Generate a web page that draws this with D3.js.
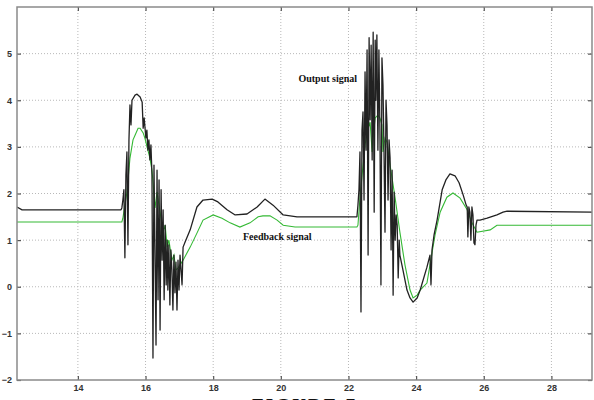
<!DOCTYPE html>
<html>
<head>
<meta charset="utf-8">
<script src="https://cdn.jsdelivr.net/npm/d3@7"></script>
<style>
  html, body { margin: 0; padding: 0; background: #fff; }
  svg { display: block; }
</style>
</head>
<body>
<div id="chart"></div>
<script>
// time / value pairs
const outputSignal = [
  [12.20, 1.71], [12.35, 1.65], [15.275, 1.65], [15.30, 1.69], [15.33, 1.86], [15.36, 2.08],
  [15.39, 0.62], [15.42, 2.40], [15.45, 2.89], [15.48, 0.90], [15.51, 3.15], [15.54, 3.90],
  [15.57, 3.47], [15.60, 4.00], [15.69, 4.11], [15.75, 4.13], [15.84, 4.07], [15.90, 3.96],
  [15.93, 3.40], [15.96, 3.62], [16.01, 3.19], [16.04, 3.36], [16.07, 2.93], [16.10, 3.15],
  [16.13, 2.72], [16.16, 3.04], [16.19, 2.40], [16.22, -1.53], [16.25, 2.61], [16.28, 0.79],
  [16.31, -1.25], [16.34, 2.50], [16.37, -0.28], [16.40, 2.29], [16.43, -0.93], [16.46, 2.08],
  [16.49, 0.57], [16.52, 1.65], [16.55, -0.28], [16.58, 1.32], [16.61, 0.04], [16.64, 1.00],
  [16.66, -0.07], [16.69, 0.90], [16.72, -0.39], [16.75, 0.79], [16.78, 0.36], [16.81, -0.50],
  [16.84, 0.68], [16.87, -0.13], [16.90, 0.53], [16.93, -0.50], [16.96, 0.57], [16.99, -0.07],
  [17.02, 0.68], [17.08, 0.04], [17.11, 0.85], [17.17, 0.96], [17.32, 1.22], [17.52, 1.71],
  [17.70, 1.86], [17.97, 1.88], [18.14, 1.82], [18.41, 1.65], [18.65, 1.54], [19.00, 1.56],
  [19.30, 1.71], [19.53, 1.88], [19.77, 1.75], [20.07, 1.54], [20.48, 1.50], [22.25, 1.50],
  [22.28, 1.75], [22.31, 2.08], [22.34, 2.89], [22.37, -0.54], [22.40, 3.36], [22.43, 3.75],
  [22.46, 1.86], [22.49, 4.61], [22.52, 2.93], [22.55, 5.08], [22.58, 0.68], [22.61, 5.34],
  [22.64, 3.58], [22.67, 5.18], [22.70, 2.72], [22.73, 5.46], [22.76, 1.60], [22.79, 5.29],
  [22.81, 4.00], [22.84, 5.40], [22.87, 2.93], [22.90, 5.08], [22.93, 3.36], [22.96, 0.04],
  [22.99, 4.91], [23.02, 4.33], [23.05, 2.93], [23.08, 1.17], [23.11, 4.00], [23.14, 3.47],
  [23.17, 1.86], [23.20, 3.15], [23.23, 2.76], [23.26, 0.79], [23.29, 2.50], [23.32, -0.18],
  [23.35, 2.03], [23.38, 1.00], [23.41, 1.54], [23.44, 1.32], [23.47, 0.19], [23.50, 1.00],
  [23.52, 0.68], [23.61, 0.36], [23.73, -0.07], [23.82, -0.24], [23.91, -0.33], [24.03, -0.24],
  [24.12, -0.07], [24.32, 0.42], [24.41, 0.68], [24.44, 0.04], [24.47, 0.79], [24.53, 1.11],
  [24.62, 1.43], [24.77, 2.08], [24.88, 2.29], [25.00, 2.42], [25.15, 2.38], [25.27, 2.23],
  [25.39, 1.97], [25.48, 1.75], [25.51, 1.71], [25.53, 1.07], [25.56, 1.71], [25.59, 1.60],
  [25.62, 1.00], [25.65, 1.71], [25.68, 1.54], [25.71, 0.94], [25.74, 0.90], [25.77, 1.32],
  [25.80, 1.43], [25.89, 1.43], [26.10, 1.47], [26.39, 1.54], [26.57, 1.60], [26.69, 1.62],
  [29.20, 1.60]
];

const feedbackSignal = [
  [12.20, 1.39], [15.30, 1.39], [15.33, 1.47], [15.39, 1.75], [15.45, 2.03], [15.54, 2.76],
  [15.63, 3.15], [15.69, 3.25], [15.78, 3.40], [15.84, 3.40], [15.93, 3.30], [15.98, 3.19],
  [16.07, 2.93], [16.13, 2.76], [16.19, 2.50], [16.22, 2.25], [16.28, 1.69], [16.34, 2.03],
  [16.43, 1.60], [16.52, 1.17], [16.58, 1.32], [16.64, 0.85], [16.69, 1.00], [16.78, 0.57],
  [16.84, 0.68], [16.90, 0.36], [16.96, 0.40], [17.02, 0.47], [17.11, 0.57], [17.32, 0.85],
  [17.52, 1.15], [17.70, 1.43], [18.00, 1.54], [18.26, 1.47], [18.50, 1.37], [18.79, 1.28],
  [19.09, 1.37], [19.33, 1.50], [19.47, 1.52], [19.68, 1.52], [19.89, 1.43], [20.07, 1.32],
  [20.42, 1.28], [22.25, 1.28], [22.28, 1.32], [22.34, 1.90], [22.43, 2.61], [22.49, 3.04],
  [22.55, 3.32], [22.64, 3.53], [22.70, 2.89], [22.73, 3.25], [22.79, 3.62], [22.87, 3.68],
  [22.93, 3.62], [22.99, 3.47], [23.02, 2.89], [23.08, 3.19], [23.14, 3.10], [23.23, 2.61],
  [23.38, 1.90], [23.52, 1.17], [23.67, 0.47], [23.82, -0.07], [23.91, -0.24], [24.03, -0.18],
  [24.12, -0.07], [24.32, 0.08], [24.41, 0.47], [24.56, 1.11], [24.71, 1.60], [24.91, 1.92],
  [25.09, 2.01], [25.30, 1.90], [25.51, 1.65], [25.65, 1.37], [25.80, 1.17], [26.19, 1.22],
  [26.39, 1.32], [29.20, 1.32]
];

const xTicks = [14, 16, 18, 20, 22, 24, 26, 28];
const yTicks = [-2, -1, 0, 1, 2, 3, 4, 5];

const W = 594, H = 400;
const margin = { top: 7, right: 2, bottom: 20, left: 17 };
const iw = W - margin.left - margin.right;
const ih = H - margin.top - margin.bottom;

const svg = d3.select('#chart').append('svg')
  .attr('width', W).attr('height', H);

const g = svg.append('g').attr('transform', `translate(${margin.left},${margin.top})`);

const x = d3.scaleLinear().domain([12.2, 29.2]).range([0, iw]);
const y = d3.scaleLinear().domain([-2, 6]).range([ih, 0]);

// dotted grid
const grid = g.append('g').attr('class', 'grid');
grid.selectAll('line.gx').data(xTicks).join('line')
  .attr('class', 'gx')
  .attr('x1', d => x(d)).attr('x2', d => x(d)).attr('y1', 0).attr('y2', ih);
grid.selectAll('line.gy').data(yTicks.filter(d => d > -2)).join('line')
  .attr('class', 'gy')
  .attr('x1', 0).attr('x2', iw).attr('y1', d => y(d)).attr('y2', d => y(d));
grid.selectAll('line')
  .attr('stroke', '#b8b8b8').attr('stroke-width', 1).attr('stroke-dasharray', '1,2');

svg.append('clipPath').attr('id', 'clip')
  .append('rect').attr('width', iw).attr('height', ih);

const line = d3.line().x(d => x(d[0])).y(d => y(d[1]));

const plot = g.append('g').attr('clip-path', 'url(#clip)');
plot.append('path').datum(feedbackSignal)
  .attr('fill', 'none').attr('stroke', '#35b935').attr('stroke-width', 1.1)
  .attr('d', line);
plot.append('path').datum(outputSignal)
  .attr('fill', 'none').attr('stroke', '#222').attr('stroke-width', 1.3)
  .attr('stroke-linejoin', 'round')
  .attr('d', line);

// axes with inward ticks
const xAxis = g.append('g').attr('transform', `translate(0,${ih})`)
  .call(d3.axisBottom(x).tickValues(xTicks).tickSize(-4).tickPadding(5).tickFormat(d3.format('d')));
const xTop = g.append('g')
  .call(d3.axisTop(x).tickValues(xTicks).tickSize(-4).tickFormat(''));
const yAxis = g.append('g')
  .call(d3.axisLeft(y).tickValues(yTicks).tickSize(-4).tickPadding(5).tickFormat(d3.format('d')));
const yRight = g.append('g').attr('transform', `translate(${iw},0)`)
  .call(d3.axisRight(y).tickValues(yTicks).tickSize(-4).tickFormat(''));

[xAxis, xTop, yAxis, yRight].forEach(a => {
  a.select('.domain').remove();
  a.selectAll('.tick line').attr('stroke', '#555').attr('stroke-width', 1.2);
  a.selectAll('text').attr('fill', '#333').attr('font-size', 9)
    .attr('font-family', 'Liberation Sans, Arial, sans-serif').attr('font-weight', 'bold');
});

g.append('rect').attr('width', iw).attr('height', ih)
  .attr('fill', 'none').attr('stroke', '#8a8a8a').attr('stroke-width', 1.5);

// annotations
g.append('text')
  .attr('x', x(20.52)).attr('y', y(4.4))
  .attr('font-family', 'Liberation Serif, Times New Roman, serif')
  .attr('font-size', 10).attr('font-weight', 'bold').attr('fill', '#111')
  .text('Output signal');
g.append('text')
  .attr('x', x(18.88)).attr('y', y(1.0))
  .attr('font-family', 'Liberation Serif, Times New Roman, serif')
  .attr('font-size', 10).attr('font-weight', 'bold').attr('fill', '#111')
  .text('Feedback signal');

// caption, cut off by the bottom edge as in the source scan
svg.append('text')
  .attr('x', 252).attr('y', 412)
  .attr('font-family', 'Liberation Serif, Times New Roman, serif')
  .attr('font-size', 19).attr('font-weight', 'bold').attr('fill', '#111')
  .attr('textLength', 103)
  .text('FIGURE 7');
</script>
</body>
</html>
